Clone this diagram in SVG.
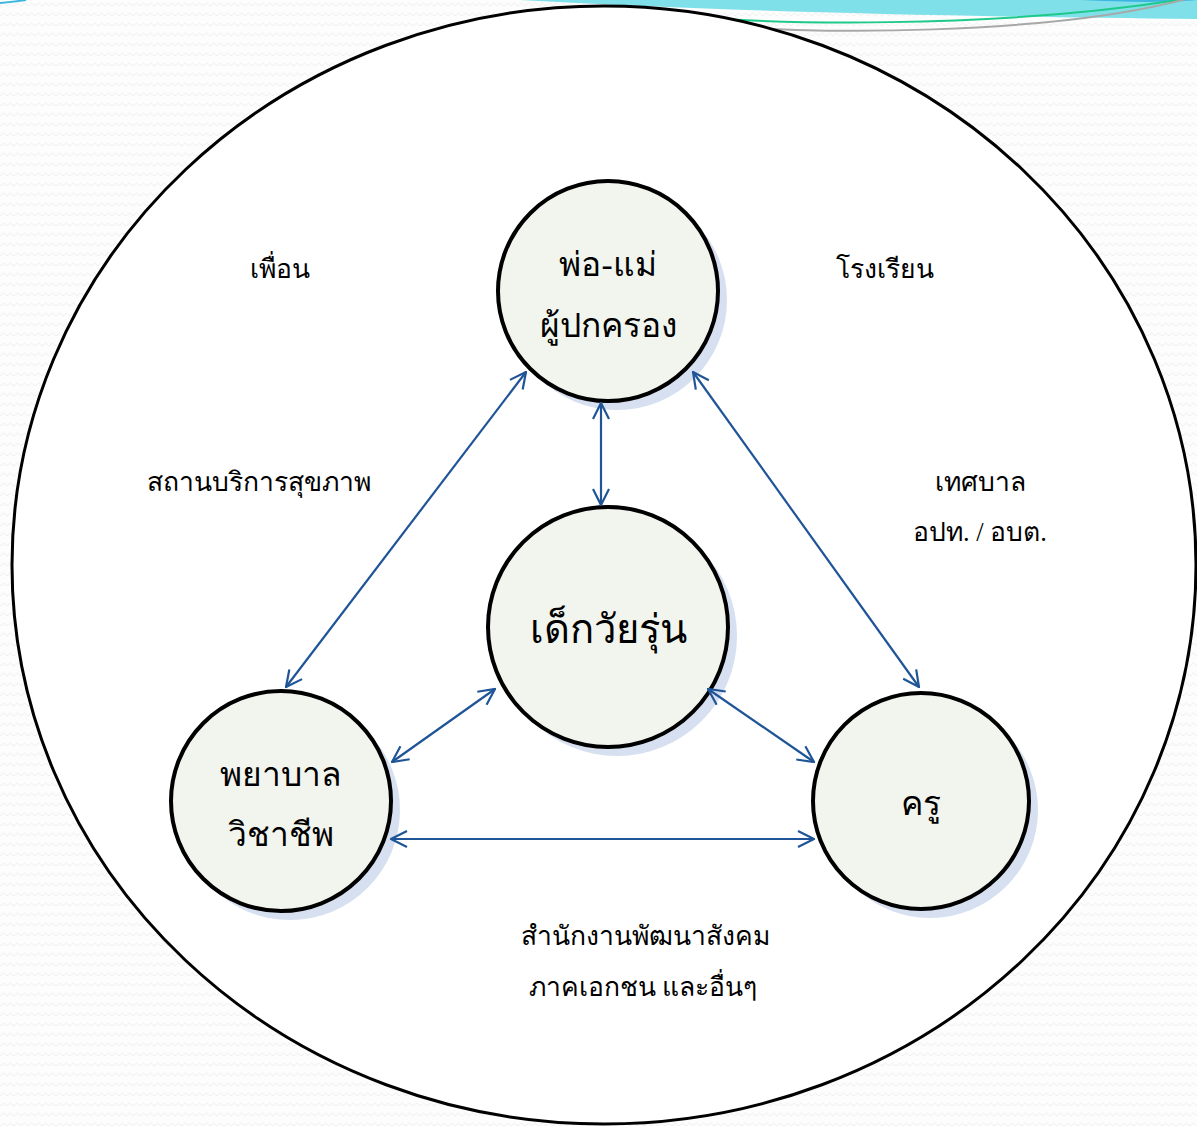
<svg xmlns="http://www.w3.org/2000/svg" width="1197" height="1126" viewBox="0 0 1197 1126">
<style>
.node{fill:#f2f4ee;stroke:#000;stroke-width:4}
.shadow{fill:#d6e0f0}
.t{font-family:"Liberation Serif","DejaVu Serif",serif;fill:#000;text-anchor:middle;font-weight:normal}
.lbl{font-size:26.5px}
.nt{font-size:33.5px}
.conn{stroke:#1f5597;stroke-width:2.2;fill:none;marker-start:url(#ah);marker-end:url(#ah)}
</style>
<defs>
<pattern id="bg" width="14" height="10" patternUnits="userSpaceOnUse">
<rect width="14" height="10" fill="#fdfdfd"/>
<path d="M0 6 L3.5 3 L7 6 L10.5 3 L14 6" stroke="#efefef" stroke-width="1" fill="none"/>
</pattern>
<marker id="ah" viewBox="0 0 20 20" refX="19" refY="10" markerWidth="20" markerHeight="20" markerUnits="userSpaceOnUse" orient="auto-start-reverse">
<path d="M3 2 L19 10 L3 18" fill="none" stroke="#1f5597" stroke-width="2.2"/>
</marker>
</defs>
<rect width="1197" height="1126" fill="url(#bg)"/>
<g id="decoration">
<path d="M520 0 C700 10 900 16 1197 19 L1197 0 Z" fill="#7fe0ea"/>
<path d="M1080 0 C1120 2 1170 3 1197 0 Z" fill="#3cb6e0"/>
<path d="M0 3 C10 2 20 1 26 0" stroke="#3cb6e0" stroke-width="2" fill="none"/>
<path d="M640 12 C760 26 1000 30 1197 -3" stroke="#1ec98a" stroke-width="2" fill="none"/>
<path d="M690 23 C800 36 1060 36 1197 -4" stroke="#a8a8a8" stroke-width="2" fill="none"/>
</g>
<g id="outer">
<ellipse cx="604" cy="565" rx="592" ry="559" fill="#fff" stroke="#000" stroke-width="3"/>
</g>
<g id="labels">
<text class="t lbl" x="280" y="278">เพื่อน</text>
<text class="t lbl" x="885" y="278">โรงเรียน</text>
<text class="t lbl" x="259" y="491">สถานบริการสุขภาพ</text>
<text class="t lbl" x="980" y="491">เทศบาล</text>
<text class="t lbl" x="980" y="541">อปท. / อบต.</text>
<text class="t lbl" x="645" y="945">สำนักงานพัฒนาสังคม</text>
<text class="t lbl" x="643" y="996">ภาคเอกชน และอื่นๆ</text>
</g>
<g id="node-parents">
<circle class="shadow" cx="617" cy="300" r="110"/>
<circle class="node" cx="608" cy="291" r="110"/>
<text class="t nt" x="608" y="276">พ่อ-แม่</text>
<text class="t nt" x="608" y="337">ผู้ปกครอง</text>
</g>
<g id="node-teen">
<circle class="shadow" cx="617" cy="636" r="120"/>
<circle class="node" cx="608" cy="627" r="120"/>
<text class="t" font-size="40" x="608" y="643">เด็กวัยรุ่น</text>
</g>
<g id="node-nurse">
<circle class="shadow" cx="290" cy="810" r="110"/>
<circle class="node" cx="281" cy="801" r="110"/>
<text class="t nt" x="281" y="786">พยาบาล</text>
<text class="t nt" x="281" y="846">วิชาชีพ</text>
</g>
<g id="node-teacher">
<circle class="shadow" cx="930" cy="810" r="108"/>
<circle class="node" cx="921" cy="801" r="108"/>
<text class="t nt" x="921" y="815">ครู</text>
</g>
<g id="connectors">
<line class="conn" x1="601" y1="403" x2="601" y2="505"/>
<line class="conn" x1="526" y1="372" x2="286" y2="687"/>
<line class="conn" x1="693" y1="372" x2="919" y2="687"/>
<line class="conn" x1="495" y1="689" x2="392" y2="762"/>
<line class="conn" x1="708" y1="689" x2="814" y2="762"/>
<line class="conn" x1="391" y1="839" x2="814" y2="839"/>
</g>
</svg>
